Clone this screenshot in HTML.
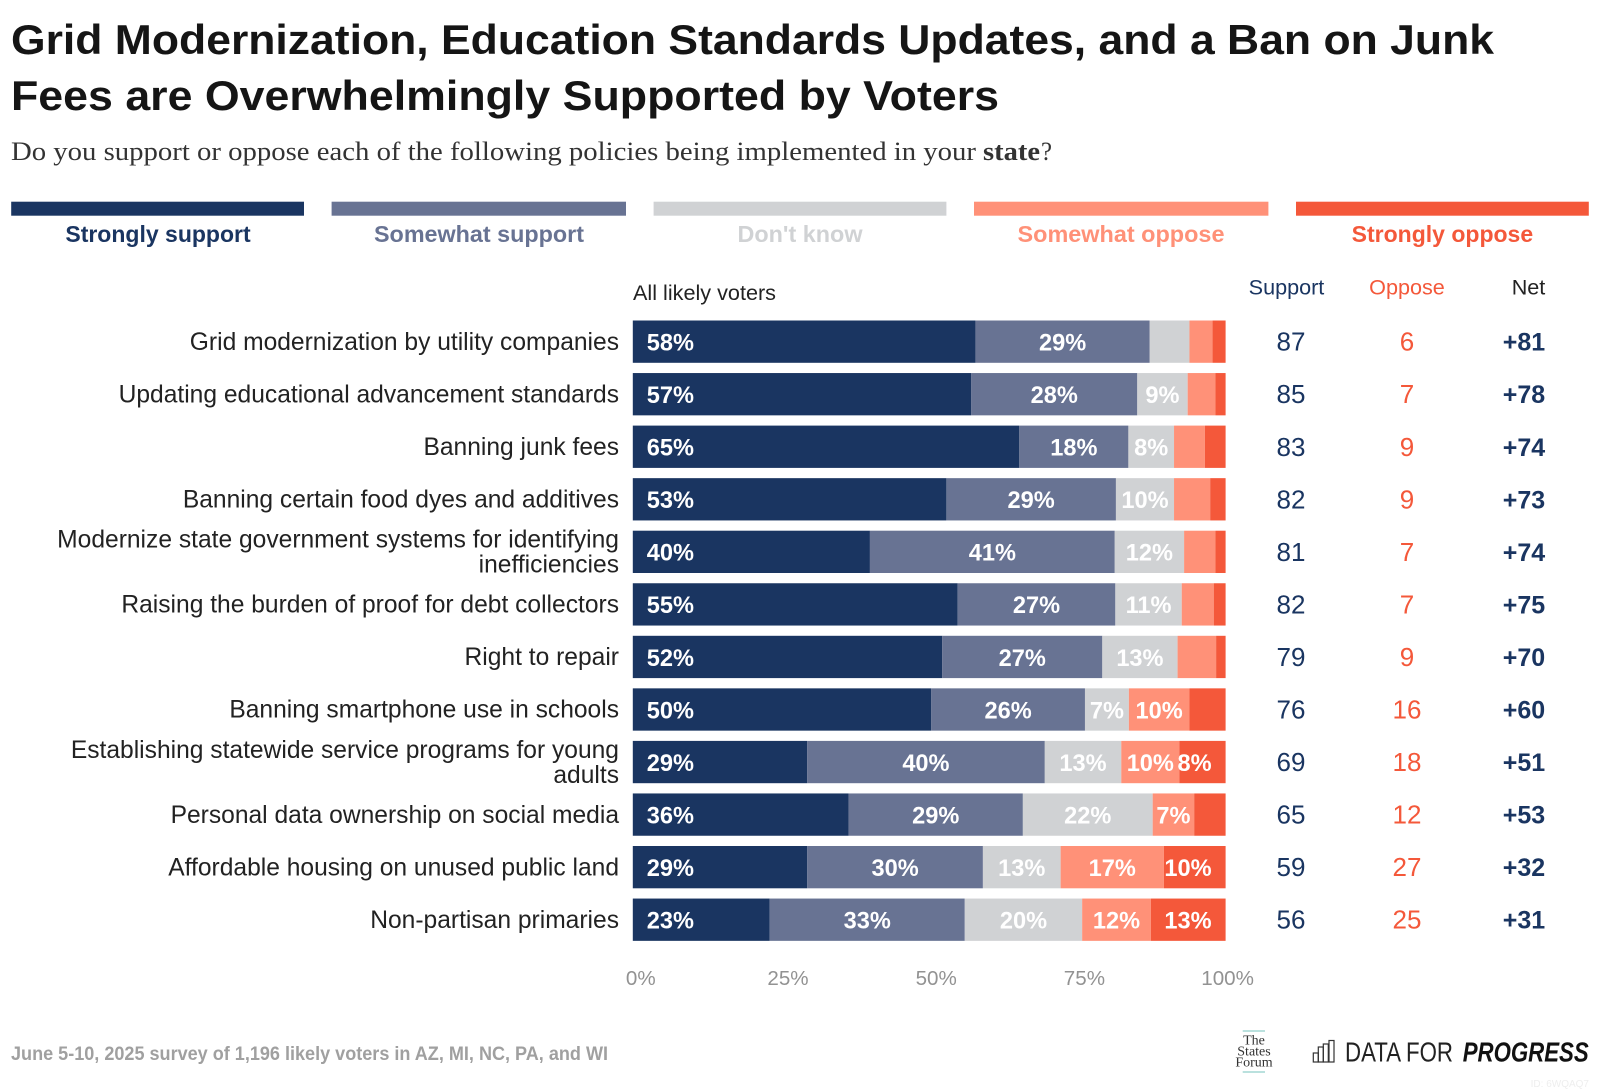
<!DOCTYPE html>
<html lang="en">
<head>
<meta charset="utf-8">
<title>Grid Modernization, Education Standards Updates, and a Ban on Junk Fees</title>
<style>
html,body{margin:0;padding:0;background:#fff;width:1600px;height:1090px;overflow:hidden}
svg{display:block}
text{font-family:"Liberation Sans",Arial,sans-serif}
.serif{font-family:"Liberation Serif",serif}
</style>
</head>
<body>
<svg id="chart" xmlns="http://www.w3.org/2000/svg" width="1600" height="1090" viewBox="0 0 1600 1090">
  <rect x="0" y="0" width="1600" height="1090" fill="#fff"/>

  <text x="11" y="54" font-size="42" font-weight="700" fill="#151515" textLength="1483" lengthAdjust="spacingAndGlyphs">Grid Modernization, Education Standards Updates, and a Ban on Junk</text>
  <text x="11" y="110" font-size="42" font-weight="700" fill="#151515" textLength="988" lengthAdjust="spacingAndGlyphs">Fees are Overwhelmingly Supported by Voters</text>

  <text class="serif" x="11" y="160" font-size="26" fill="#333" textLength="965" lengthAdjust="spacingAndGlyphs">Do you support or oppose each of the following policies being implemented in your</text>
  <text class="serif" x="983" y="160" font-size="26" font-weight="700" fill="#333" textLength="57" lengthAdjust="spacingAndGlyphs">state</text>
  <text class="serif" x="1041" y="160" font-size="26" fill="#333" textLength="11" lengthAdjust="spacingAndGlyphs">?</text>

  <g>
    <rect x="11.2" y="201.7" width="292.8" height="14" fill="#1a3561"/>
    <rect x="331.6" y="201.7" width="294.4" height="14" fill="#687393"/>
    <rect x="653.6" y="201.7" width="292.8" height="14" fill="#d0d2d4"/>
    <rect x="974" y="201.7" width="294.4" height="14" fill="#ff9178"/>
    <rect x="1296" y="201.7" width="292.8" height="14" fill="#f4583a"/>
    <text x="158" y="242" text-anchor="middle" font-size="23" font-weight="700" fill="#1a3561">Strongly support</text>
    <text x="479" y="242" text-anchor="middle" font-size="23" font-weight="700" fill="#687393" textLength="210" lengthAdjust="spacingAndGlyphs">Somewhat support</text>
    <text x="800" y="242" text-anchor="middle" font-size="23" font-weight="700" fill="#d0d2d4" textLength="125" lengthAdjust="spacingAndGlyphs">Don't know</text>
    <text x="1121" y="242" text-anchor="middle" font-size="23" font-weight="700" fill="#ff9178" textLength="207" lengthAdjust="spacingAndGlyphs">Somewhat oppose</text>
    <text x="1442.4" y="242" text-anchor="middle" font-size="23" font-weight="700" fill="#f4583a">Strongly oppose</text>
  </g>

  <text x="633" y="300" font-size="21" fill="#222" textLength="143" lengthAdjust="spacingAndGlyphs">All likely voters</text>
  <text x="1286.5" y="294.5" text-anchor="middle" font-size="21.6" fill="#1a3561">Support</text>
  <text x="1407" y="294.5" text-anchor="middle" font-size="21.6" fill="#f4583a">Oppose</text>
  <text x="1528.5" y="294.5" text-anchor="middle" font-size="21.6" fill="#222">Net</text>

  <g id="rows"></g>
  <g id="axis"></g>

  <text x="11" y="1060" font-size="19" font-weight="700" fill="#a0a0a0" textLength="597" lengthAdjust="spacingAndGlyphs">June 5-10, 2025 survey of 1,196 likely voters in AZ, MI, NC, PA, and WI</text>

  <g>
    <rect x="1242.7" y="1030.3" width="22.3" height="1.4" fill="#9dd4cf"/>
    <text class="serif" x="1254" y="1044.7" text-anchor="middle" font-size="14" fill="#333">The</text>
    <text class="serif" x="1254" y="1055.7" text-anchor="middle" font-size="14" fill="#333">States</text>
    <text class="serif" x="1254" y="1066.7" text-anchor="middle" font-size="14" fill="#333">Forum</text>
    <rect x="1242.7" y="1071.3" width="22.3" height="1.4" fill="#9dd4cf"/>
  </g>

  <g>
    <g fill="none" stroke="#333" stroke-width="1.2">
      <rect x="1313.3" y="1053" width="5" height="9"/>
      <rect x="1318.3" y="1047" width="5" height="15"/>
      <rect x="1323.3" y="1044" width="5" height="18"/>
      <rect x="1329" y="1040.5" width="5" height="21.5"/>
    </g>
    <text x="1345" y="1061.7" font-size="28" fill="#222" textLength="108" lengthAdjust="spacingAndGlyphs">DATA FOR</text>
    <text x="1462.7" y="1061.7" font-size="28" font-weight="700" font-style="italic" fill="#111" textLength="126" lengthAdjust="spacingAndGlyphs">PROGRESS</text>
  </g>
  <text x="1589" y="1087" text-anchor="end" font-size="10" fill="#eee">ID: 6WQAQ7</text>
</svg>

<script>
const categories = [
  "Grid modernization by utility companies",
  "Updating educational advancement standards",
  "Banning junk fees",
  "Banning certain food dyes and additives",
  "Modernize state government systems for identifying|inefficiencies",
  "Raising the burden of proof for debt collectors",
  "Right to repair",
  "Banning smartphone use in schools",
  "Establishing statewide service programs for young|adults",
  "Personal data ownership on social media",
  "Affordable housing on unused public land",
  "Non-partisan primaries"
];
const stronglySupport = [57.8, 57.1, 65.2, 52.9, 40.0, 54.8, 52.2, 50.3, 29.4, 36.4, 29.4, 23.1];
const somewhatSupport = [29.4, 28.0, 18.4, 28.6, 41.3, 26.6, 27.0, 25.9, 40.1, 29.4, 29.6, 32.9];
const dontKnow        = [6.7, 8.5, 7.7, 9.8, 11.7, 11.2, 12.7, 7.4, 12.9, 21.9, 13.1, 19.8];
const somewhatOppose  = [3.9, 4.7, 5.2, 6.1, 5.3, 5.4, 6.5, 10.2, 9.8, 7.0, 17.4, 11.6];
const stronglyOppose  = [2.2, 1.7, 3.5, 2.6, 1.7, 2.0, 1.6, 6.1, 7.8, 5.3, 10.4, 12.6];
const supportTotals = [87, 85, 83, 82, 81, 82, 79, 76, 69, 65, 59, 56];
const opposeTotals  = [6, 7, 9, 9, 7, 7, 9, 16, 18, 12, 27, 25];
const netValues     = ["+81", "+78", "+74", "+73", "+74", "+75", "+70", "+60", "+51", "+53", "+32", "+31"];
const xTicks = [0, 25, 50, 75, 100];

const NS = "http://www.w3.org/2000/svg";
const plotLeft = 632.8, plotWidth = 592.8;
const rowTop = 320.5, rowStep = 52.55, barHeight = 42.3;
const minLabelShare = 6.9;
const seriesInfo = [
  { key: "strongly-support", values: stronglySupport, color: "#1a3561" },
  { key: "somewhat-support", values: somewhatSupport, color: "#687393" },
  { key: "dont-know", values: dontKnow, color: "#d0d2d4" },
  { key: "somewhat-oppose", values: somewhatOppose, color: "#ff9178" },
  { key: "strongly-oppose", values: stronglyOppose, color: "#f4583a" }
];

function xScale(pct) { return plotLeft + pct / 100 * plotWidth; }
function yCenter(i) { return rowTop + i * rowStep + barHeight / 2; }

function addText(parent, x, y, str, size, fill, anchor, weight) {
  const t = document.createElementNS(NS, "text");
  t.setAttribute("x", x);
  t.setAttribute("y", y);
  t.setAttribute("font-size", size);
  t.setAttribute("fill", fill);
  t.setAttribute("text-anchor", anchor);
  t.setAttribute("font-weight", weight);
  t.textContent = str;
  parent.appendChild(t);
  return t;
}

const rowsGroup = document.getElementById("rows");
categories.forEach(function (cat, i) {
  const row = document.createElementNS(NS, "g");
  
  
  rowsGroup.appendChild(row);

  const cy = yCenter(i);
  const lines = cat.split("|");
  lines.forEach(function (line, k) {
    const baseline = cy + 8.2 + (k - (lines.length - 1) / 2) * 25;
    const label = addText(row, 619, baseline, line, 24.6, "#222", "end", 400);
    
    
  });

  const total = seriesInfo.reduce(function (s, d) { return s + d.values[i]; }, 0);
  let cum = 0;
  seriesInfo.forEach(function (series, s) {
    const v = series.values[i];
    const share = v / total * 100;
    const x0 = xScale(cum);
    const x1 = xScale(cum + share);
    const bar = document.createElementNS(NS, "rect");
    
    
    bar.setAttribute("data-series", series.key);
    bar.setAttribute("x", x0);
    bar.setAttribute("y", cy - barHeight / 2);
    bar.setAttribute("width", x1 - x0);
    bar.setAttribute("height", barHeight);
    bar.setAttribute("fill", series.color);
    row.appendChild(bar);
    cum += share;
  });

  cum = 0;
  seriesInfo.forEach(function (series, s) {
    const v = series.values[i];
    const share = v / total * 100;
    if (share >= minLabelShare) {
      let lx = (xScale(cum) + xScale(cum + share)) / 2;
      let anchor = "middle";
      if (s === 0) { lx = xScale(0) + 14; anchor = "start"; }
      if (s === seriesInfo.length - 1) { lx = xScale(100) - 14; anchor = "end"; }
      const valueLabel = addText(row, lx, cy + 8.8, Math.round(v) + "%", 23.6, "#fff", anchor, 700);
      
      
    }
    cum += share;
  });

  const sup = addText(row, 1291, cy + 9, String(supportTotals[i]), 26, "#1a3561", "middle", 400);
  
  

  const opp = addText(row, 1407, cy + 9, String(opposeTotals[i]), 26, "#f4583a", "middle", 400);
  
  

  const net = addText(row, 1524, cy + 9, netValues[i], 25, "#1a3561", "middle", 700);
  
  
});

const axisGroup = document.getElementById("axis");
xTicks.forEach(function (tick) {
  const offset = tick === 100 ? 2 : (tick === 0 ? 8 : 7);
  const tl = addText(axisGroup, xScale(tick) + offset, 985, tick + "%", 20.6, "#929292", "middle", 400);
  
  
});
</script>
</body>
</html>
